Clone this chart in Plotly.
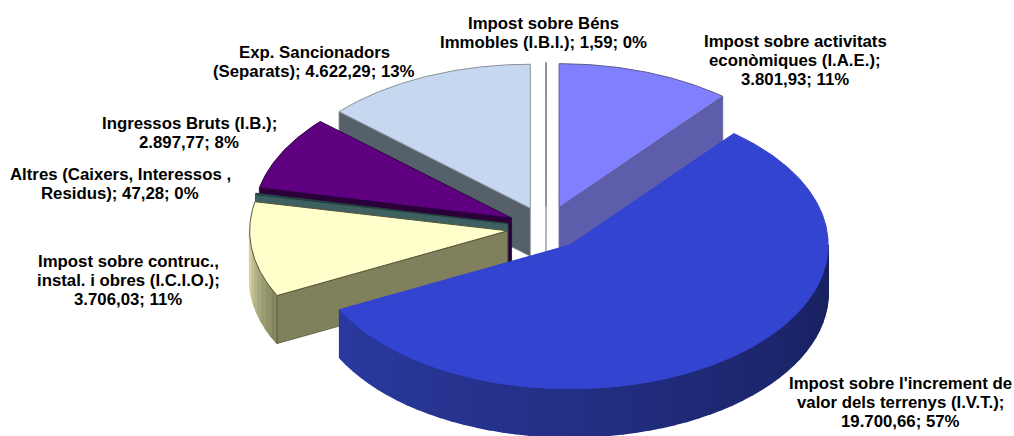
import numpy as np
import plotly.graph_objects as go

# ---- data (clockwise from 12 o'clock) ----
categories = ["Impost sobre Béns Immobles (I.B.I.)", "Impost sobre activitats econòmiques (I.A.E.)",
              "Impost sobre l'increment de valor dels terrenys (I.V.T.)",
              "Impost sobre contruc., instal. i obres (I.C.I.O.)",
              "Altres (Caixers, Interessos , Residus)", "Ingressos Bruts (I.B.)",
              "Exp. Sancionadors (Separats)"]
values = [1.59, 3801.93, 19700.66, 3706.03, 47.28, 2897.77, 4622.29]
label_name_lines = [["Impost sobre Béns", "Immobles (I.B.I.);"],
                    ["Impost sobre activitats", "econòmiques (I.A.E.);"],
                    ["Impost sobre l'increment de", "valor dels terrenys (I.V.T.);"],
                    ["Impost sobre contruc.,", "instal. i obres (I.C.I.O.);"],
                    ["Altres (Caixers, Interessos ,", "Residus);"],
                    ["Ingressos Bruts (I.B.);"],
                    ["Exp. Sancionadors", "(Separats);"]]
# values stay on the last name line for these slices
inline_value = [True, False, False, False, True, False, True]

# ---- style / layout ----
top_colors = ["#c8c8d0", "#8080ff", "#3344d0", "#ffffcc", "#2a5a5a", "#5f0080", "#c6d7f0"]
edge_colors = ["#8a8a8a", "#5a5a90", "#3344d0", "#55553a", "#223f3f", "#2a0040", "#8a8f98"]
cut_colors = ["#8a8a8a", "#5d5dab", "#1f2a80", "#80805c", "#3f6060", "#2b0038", "#56606a"]
arc_from = ["#8a8a8a", "#5d5dab", "#18205c", "#80805c", "#3f6060", "#2b0038", "#56606a"]
arc_to = ["#8a8a8a", "#5d5dab", "#2b3aa0", "#dcdca8", "#3f6060", "#2b0038", "#56606a"]
label_xy = [(543, 23), (795, 41), (900, 383), (128, 261), (120, 174), (189, 123), (314, 52)]
draw_order = [6, 1, 0, 5, 4, 3, 2]
CX, CY, A, B, DEPTH, EXPLODE = 546, 228, 258, 144, 48, 0.15
W, H = 1014, 436
FONT_SIZE, LINE_STEP = 16.8, 19.2

total = sum(values)
edges = np.concatenate([[0], np.cumsum(values)]) / total * 2 * np.pi


def hex_rgb(h):
    return np.array([int(h[i:i + 2], 16) for i in (1, 3, 5)], float)


def point(theta, ox, oy):
    return ox + A * np.sin(theta), oy - B * np.cos(theta)


def poly(fig, xs, ys, fill, line=None, width=0.8):
    fig.add_trace(go.Scatter(x=list(xs) + [xs[0]], y=list(ys) + [ys[0]], mode="lines", fill="toself",
                             fillcolor=fill, line=dict(color=line or fill, width=width),
                             hoverinfo="skip", showlegend=False))


fig = go.Figure()
for i in draw_order:
    t0, t1 = edges[i], edges[i + 1]
    mid = (t0 + t1) / 2
    ox = CX + EXPLODE * A * np.sin(mid)
    oy = CY - EXPLODE * B * np.cos(mid)
    # rounded outer wall (front half only), shaded in steps
    lo, hi = max(t0, np.pi / 2), min(t1, 3 * np.pi / 2)
    if hi > lo:
        n = max(2, int(np.degrees(hi - lo) / 3))
        ts = np.linspace(lo, hi, n + 1)
        c0, c1 = hex_rgb(arc_from[i]), hex_rgb(arc_to[i])
        for k in range(n):
            c = c0 + (c1 - c0) * (k + .5) / n
            col = "rgb(%d,%d,%d)" % tuple(c)
            sub = np.linspace(ts[k], ts[k + 1], 4)
            xa, ya = point(sub, ox, oy)
            poly(fig, list(xa) + list(xa[::-1]), list(ya) + list(ya[::-1] + DEPTH), col, col, 1.6)
    # cut faces: only those turned towards the viewer
    for t, visible in ((t0, t0 > np.pi), (t1, t1 < np.pi)):
        if visible:
            px, py = point(t, ox, oy)
            poly(fig, [ox, px, px, ox], [oy, py, py + DEPTH, oy + DEPTH], cut_colors[i], edge_colors[i])
    # top face
    ts = np.linspace(t0, t1, max(2, int(np.degrees(t1 - t0)) * 2 + 2))
    xa, ya = point(ts, ox, oy)
    poly(fig, [ox] + list(xa), [oy] + list(ya), top_colors[i], edge_colors[i], 1)


def money(v):
    return f"{v:,.2f}".replace(",", "#").replace(".", ",").replace("#", ".")


for i, (lines, v) in enumerate(zip(label_name_lines, values)):
    tail = f"{money(v)}; {round(v / total * 100)}%"
    rows = list(lines)
    if inline_value[i]:
        rows[-1] += " " + tail
    else:
        rows.append(tail)
    x, y = label_xy[i]
    for k, row in enumerate(rows):
        fig.add_annotation(x=x, y=y + k * LINE_STEP, text=f"<b>{row}</b>", showarrow=False, xanchor="center",
                           yanchor="middle", font=dict(family="Liberation Sans", size=FONT_SIZE, color="#000"))

fig.update_layout(width=W, height=H, autosize=False, margin=dict(l=0, r=0, t=0, b=0), paper_bgcolor="white",
                  plot_bgcolor="white", showlegend=False,
                  xaxis=dict(range=[0, W], visible=False, fixedrange=True),
                  yaxis=dict(range=[H, 0], visible=False, fixedrange=True))
fig.write_html("out.html", config={"displayModeBar": False},
               post_script="document.body.style.margin='0';document.documentElement.style.overflow='hidden';")
